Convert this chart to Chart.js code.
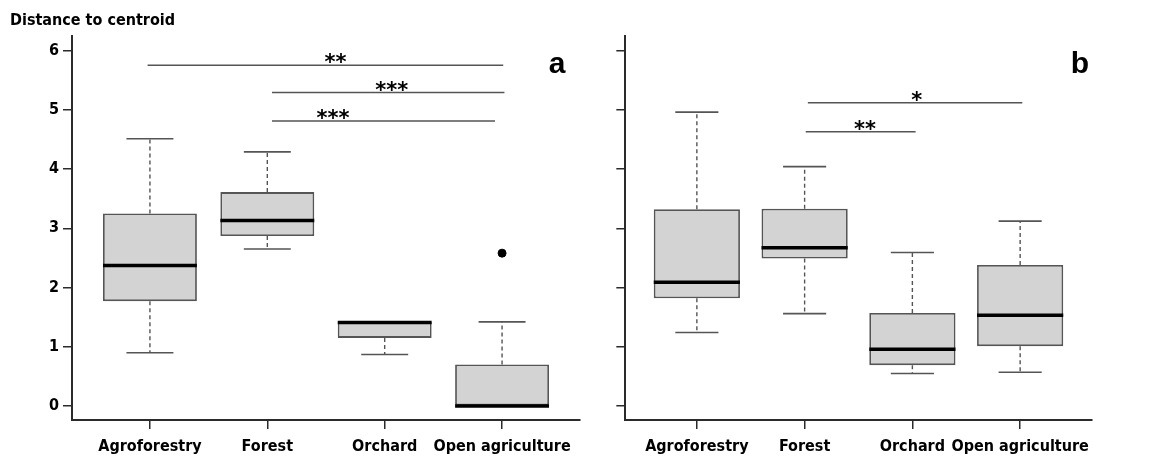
<!DOCTYPE html>
<html>
<head>
<meta charset="utf-8">
<script src="https://cdn.jsdelivr.net/npm/chart.js@4.4.0/dist/chart.umd.min.js"></script>
<style>
  html, body { margin: 0; padding: 0; background: #fff; }
  #wrap { position: relative; width: 1150px; height: 459px; }
  canvas { position: absolute; top: 0; }
  #chartA { left: 0; }
  #chartB { left: 575px; }
</style>
</head>
<body>
<div id="wrap">
  <canvas id="chartA" width="590" height="459"></canvas>
  <canvas id="chartB" width="575" height="459"></canvas>
</div>
<script>
// categories and axis ticks
const categories = ['Agroforestry', 'Forest', 'Orchard', 'Open agriculture'];
const yTicks = [0, 1, 2, 3, 4, 5, 6];

// panel a: box statistics
const aMin    = [0.90, 2.65, 0.87, 0.00];
const aQ1     = [1.77, 2.87, 1.15, 0.00];
const aMedian = [2.37, 3.13, 1.41, 0.00];
const aQ3     = [3.25, 3.61, 1.42, 0.70];
const aMax    = [4.51, 4.29, 1.42, 1.42];
const aOutliers = [null, null, null, 2.58];
// panel a: significance brackets
const aSigFrom  = [0.98, 2.04, 2.04];
const aSigTo    = [4.01, 4.02, 3.94];
const aSigY     = [5.75, 5.29, 4.81];
const aSigText  = ['**', '***', '***'];
const aSigTextX = [2.58, 3.06, 2.56];

// panel b: box statistics
const bMin    = [1.24, 1.56, 0.55, 0.57];
const bQ1     = [1.82, 2.49, 0.69, 1.01];
const bMedian = [2.09, 2.67, 0.96, 1.53];
const bQ3     = [3.32, 3.33, 1.57, 2.38];
const bMax    = [4.96, 4.04, 2.59, 3.12];
const bOutliers = [null, null, null, null];
// panel b: significance brackets
const bSigFrom  = [2.03, 2.01];
const bSigTo    = [4.02, 3.03];
const bSigY     = [5.12, 4.63];
const bSigText  = ['*', '**'];
const bSigTextX = [3.04, 2.56];

const LABEL_FONT = '"DejaVu Sans Condensed", "DejaVu Sans", sans-serif';
const AXIS = '#2b2b2b';
const BOX_LINE = '#555';

// whiskers, medians, brackets and panel letters
const boxExtras = {
  id: 'boxExtras',
  afterDatasetsDraw(chart, args, o) {
    const ctx = chart.ctx;
    const xs = chart.scales.x, ys = chart.scales.y;
    const unit = xs.getPixelForValue(2) - xs.getPixelForValue(1);
    const line = (x1, y1, x2, y2) => { ctx.beginPath(); ctx.moveTo(x1, y1); ctx.lineTo(x2, y2); ctx.stroke(); };
    ctx.save();
    o.min.forEach((lo, i) => {
      const cx = xs.getPixelForValue(i + 1);
      ctx.strokeStyle = BOX_LINE;
      ctx.lineWidth = 1.4;
      ctx.setLineDash([4, 3]);
      if (o.max[i] > o.q3[i]) line(cx, ys.getPixelForValue(o.q3[i]), cx, ys.getPixelForValue(o.max[i]));
      if (lo < o.q1[i]) line(cx, ys.getPixelForValue(o.q1[i]), cx, ys.getPixelForValue(lo));
      ctx.setLineDash([]);
      ctx.lineWidth = 1.6;
      line(cx - 0.2 * unit, ys.getPixelForValue(o.max[i]), cx + 0.2 * unit, ys.getPixelForValue(o.max[i]));
      line(cx - 0.2 * unit, ys.getPixelForValue(lo), cx + 0.2 * unit, ys.getPixelForValue(lo));
      ctx.strokeStyle = '#000';
      ctx.lineWidth = 3.5;
      line(cx - 0.4 * unit, ys.getPixelForValue(o.median[i]), cx + 0.4 * unit, ys.getPixelForValue(o.median[i]));
    });

    ctx.strokeStyle = BOX_LINE;
    ctx.lineWidth = 1.5;
    ctx.fillStyle = '#000';
    ctx.font = 'bold 21px "DejaVu Sans", sans-serif';
    ctx.textAlign = 'center';
    ctx.textBaseline = 'alphabetic';
    o.sigY.forEach((v, i) => {
      const py = ys.getPixelForValue(v);
      line(xs.getPixelForValue(o.sigFrom[i]), py, xs.getPixelForValue(o.sigTo[i]), py);
      ctx.fillText(o.sigText[i], xs.getPixelForValue(o.sigTextX[i]), py + 4);
    });

    ctx.font = 'bold 30px "Liberation Sans", Arial, sans-serif';
    ctx.fillText(o.letter, chart.chartArea.right - o.letterDx, chart.chartArea.top + 36.5);

    if (o.title) {
      ctx.font = 'bold 16px ' + LABEL_FONT;
      ctx.textAlign = 'left';
      ctx.fillText(o.title, 10, 25);
    }
    ctx.restore();
  }
};

function makePanel(id, s, cfg) {
  return new Chart(document.getElementById(id), {
    type: 'bar',
    data: {
      datasets: [{
        data: categories.map((c, i) => ({ x: i + 1, y: [s.q1[i], s.q3[i]] })),
        backgroundColor: '#d3d3d3',
        borderColor: BOX_LINE,
        borderWidth: 1.8,
        borderSkipped: false,
        barPercentage: 0.8,
        categoryPercentage: 1.0
      }, {
        type: 'scatter',
        data: s.outliers.map((v, i) => v === null ? null : { x: i + 1, y: v }).filter(p => p),
        pointRadius: 4,
        pointBackgroundColor: '#000',
        pointBorderColor: '#000'
      }]
    },
    options: {
      responsive: false,
      animation: false,
      devicePixelRatio: 1,
      layout: { padding: { top: 36, right: cfg.padRight, left: 0, bottom: 0 } },
      plugins: {
        legend: { display: false },
        tooltip: { enabled: false },
        boxExtras: Object.assign({}, s, cfg)
      },
      scales: {
        x: {
          type: 'linear',
          min: 0.336,
          max: 4.664,
          offset: false,
          afterBuildTicks: sc => { sc.ticks = categories.map((c, i) => ({ value: i + 1 })); },
          afterFit: sc => { sc.height = 39; },
          grid: { display: true, offset: false, drawOnChartArea: false, drawTicks: true, tickLength: 9, color: AXIS, lineWidth: 1.5 },
          border: { display: true, color: AXIS, width: 2 },
          ticks: {
            autoSkip: false, maxRotation: 0, padding: 8, color: '#000',
            font: { family: LABEL_FONT, size: 16, weight: 'bold' },
            callback: v => categories[v - 1]
          }
        },
        y: {
          min: -0.236,
          max: 6.245,
          afterBuildTicks: sc => { sc.ticks = yTicks.map(v => ({ value: v })); },
          afterFit: sc => { sc.width = cfg.yWidth; },
          grid: { display: true, drawOnChartArea: false, drawTicks: true, tickLength: 9, color: AXIS, lineWidth: 1.5 },
          border: { display: true, color: AXIS, width: 2 },
          ticks: {
            padding: 4, color: '#000',
            font: { family: LABEL_FONT, size: 16, weight: 'bold' },
            callback: v => cfg.showY ? String(v) : ''
          }
        }
      }
    },
    plugins: [boxExtras]
  });
}

makePanel('chartA',
  { min: aMin, q1: aQ1, median: aMedian, q3: aQ3, max: aMax, outliers: aOutliers,
    sigFrom: aSigFrom, sigTo: aSigTo, sigY: aSigY, sigText: aSigText, sigTextX: aSigTextX },
  { padRight: 10, yWidth: 72, showY: true, letter: 'a', letterDx: 23, title: 'Distance to centroid' });

makePanel('chartB',
  { min: bMin, q1: bQ1, median: bMedian, q3: bQ3, max: bMax, outliers: bOutliers,
    sigFrom: bSigFrom, sigTo: bSigTo, sigY: bSigY, sigText: bSigText, sigTextX: bSigTextX },
  { padRight: 58.3, yWidth: 50.3, showY: false, letter: 'b', letterDx: 11.7, title: null });
</script>
</body>
</html>
